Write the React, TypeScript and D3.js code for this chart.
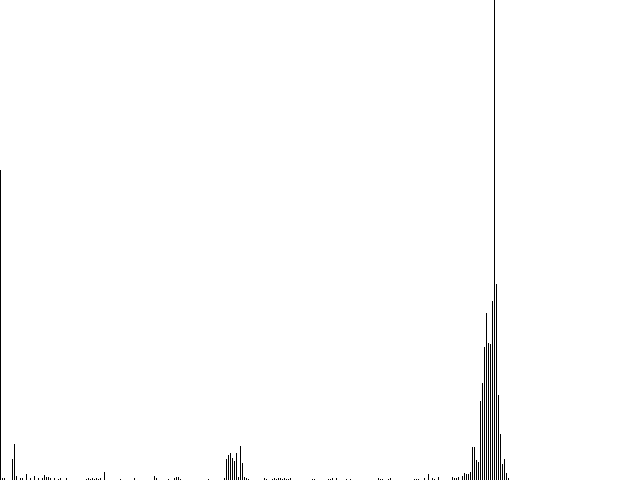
import React, { useMemo } from 'react';
import * as d3 from 'd3';

// bar heights, one per 2px slot, left to right
const counts = [
  310, 2, 2, 0, 0, 0, 21, 36, 4, 0,
  2, 2, 0, 6, 0, 2, 0, 4, 0, 2,
  0, 2, 5, 3, 3, 2, 0, 2, 0, 1,
  2, 0, 0, 2, 0, 0, 0, 0, 0, 0,
  0, 0, 0, 1, 2, 1, 2, 1, 2, 1,
  2, 0, 8, 0, 0, 0, 0, 0, 0, 0,
  1, 0, 0, 0, 0, 0, 0, 2, 0, 0,
  0, 0, 0, 0, 0, 0, 0, 4, 2, 0,
  0, 0, 0, 0, 1, 0, 0, 2, 3, 3,
  1, 0, 0, 0, 0, 0, 0, 0, 0, 0,
  0, 0, 0, 0, 1, 0, 0, 0, 0, 0,
  0, 0, 2, 21, 25, 27, 22, 19, 27, 3,
  34, 17, 3, 2, 1, 0, 0, 0, 0, 0,
  0, 0, 2, 1, 0, 0, 1, 2, 1, 2,
  2, 1, 2, 1, 1, 2, 0, 0, 0, 0,
  0, 0, 0, 0, 0, 0, 1, 1, 0, 0,
  0, 0, 0, 0, 1, 1, 2, 0, 2, 0,
  0, 0, 0, 1, 0, 1, 0, 0, 0, 0,
  0, 0, 0, 0, 0, 0, 0, 0, 0, 2,
  1, 1, 0, 0, 1, 2, 0, 0, 0, 0,
  0, 0, 0, 0, 0, 0, 0, 1, 1, 1,
  0, 0, 2, 0, 6, 0, 2, 1, 0, 3,
  0, 0, 0, 0, 0, 0, 3, 2, 2, 3,
  0, 4, 7, 6, 6, 8, 33, 33, 20, 18,
  79, 97, 133, 167, 137, 136, 179, 480, 196, 85,
  46, 16, 21, 7, 2,
];
const yMax = 480;

const W = 640;
const H = 480;

const App = () => {
  const { x, y } = useMemo(() => {
    const xScale = d3.scaleBand<number>()
      .domain(counts.map((d, i) => i))
      .range([0, counts.length * 2])
      .padding(0);
    const yScale = d3.scaleLinear()
      .domain([0, yMax])
      .range([H, 0]);
    return { x: xScale, y: yScale };
  }, []);

  const bw = x.bandwidth() / 2;

  return (
    <svg
      width={W}
      height={H}
      style={{ position: 'absolute', left: 0, top: 0, display: 'block', background: '#fff' }}
      shapeRendering="crispEdges"
    >
      <g>
        {counts.map((d, i) =>
          d > 0 ? (
            <rect key={i} x={x(i)} y={y(d)} width={bw} height={H - y(d)} fill="#000" />
          ) : null
        )}
      </g>
    </svg>
  );
};

export default App;
